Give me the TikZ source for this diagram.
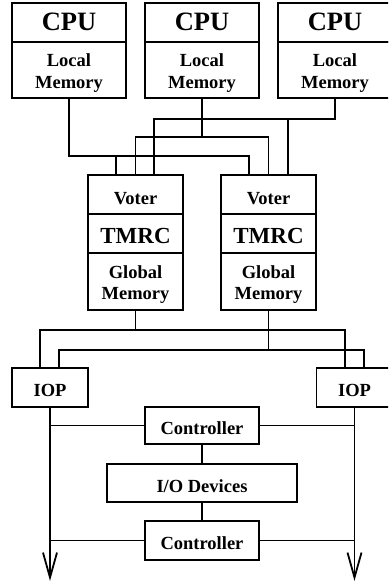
\documentclass[tikz,border=0pt]{standalone}
\usepackage{fontspec}
\setmainfont{Liberation Serif}
\usetikzlibrary{arrows.meta}

\begin{document}
\begin{tikzpicture}[x=1pt, y=-1pt, line width=1.8pt,
    unit/.style={draw, rectangle, inner sep=0pt, align=center,
        text height=18.5pt, text depth=0pt,
        font=\bfseries\fontsize{18.5}{21.5}\selectfont},
    twoline/.style={unit, text height=36.5pt},
    bigunit/.style={unit, text height=16.5pt, font=\bfseries\fontsize{26.5}{30}\selectfont},
    midunit/.style={unit, text height=19.5pt, font=\bfseries\fontsize{23}{26}\selectfont},
    bus/.style={-{Straight Barb[length=25pt, width=14pt, line width=1.8pt]}}]
            \useasboundingbox (0,0) rectangle (388,583);
            \clip (0,0) rectangle (388,583);

            % processors
            \node[bigunit, minimum width=114pt, minimum height=39pt] (cpuA) at (69,22.5) {CPU};
            \node[twoline, minimum width=114pt, minimum height=56pt] (memA) at (69,70) {Local\\Memory};
            \node[bigunit, minimum width=114pt, minimum height=39pt] (cpuB) at (202,22.5) {CPU};
            \node[twoline, minimum width=114pt, minimum height=56pt] (memB) at (202,70) {Local\\Memory};
            \node[bigunit, minimum width=114pt, minimum height=39pt] (cpuC) at (335,22.5) {CPU};
            \node[twoline, minimum width=114pt, minimum height=56pt] (memC) at (335,70) {Local\\Memory};

            % voters
            \node[unit, text height=19.5pt, minimum width=95pt, minimum height=39pt] (voteA) at (135.5,194.5) {Voter};
            \node[midunit, minimum width=95pt, minimum height=39pt] (tmrcA) at (135.5,233.5) {TMRC};
            \node[twoline, minimum width=95pt, minimum height=57pt] (globA) at (135.5,281.5) {Global\\Memory};
            \node[unit, text height=19.5pt, minimum width=95pt, minimum height=39pt] (voteB) at (268.5,194.5) {Voter};
            \node[midunit, minimum width=95pt, minimum height=39pt] (tmrcB) at (268.5,233.5) {TMRC};
            \node[twoline, minimum width=95pt, minimum height=57pt] (globB) at (268.5,281.5) {Global\\Memory};

            % i/o side
            \node[unit, minimum width=76pt, minimum height=39pt] (iopA) at (50,387.5) {IOP};
            \node[unit, minimum width=76pt, minimum height=39pt] (iopB) at (354.5,387.5) {IOP};
            \node[unit, minimum width=114pt, minimum height=37.5pt] (ctrlA) at (202,425.5) {Controller};
            \node[unit, minimum width=190pt, minimum height=38pt] (io) at (202,483) {I/O Devices};
            \node[unit, minimum width=114pt, minimum height=39pt] (ctrlB) at (202,540.5) {Controller};

            % cpu -> voter
            \draw (memA.south) -- ++(0,57) -| ([xshift=-19.5pt]voteB.north);
            \coordinate (jA) at ([xshift=-19.5pt]voteA.north |- 0,155);
            \draw ([xshift=-19.5pt]voteA.north) -- (jA);
            \draw (memB.south) -- ++(0,38) coordinate (jB);
            \draw (voteA.north) |- (jB) -| (voteB.north);
            \draw (memC.south) -- ++(0,20) coordinate (jC) -| ([xshift=18.5pt]voteA.north);
            \draw ([xshift=19.5pt]voteB.north) |- (jC);

            % voter -> iop
            \draw (globA.south) -- ++(0,19) coordinate (kA);
            \draw ([xshift=-10pt]iopA.north) |- (kA) -| ([xshift=-9.5pt]iopB.north);
            \draw (globB.south) -- ++(0,39) coordinate (kB);
            \draw ([xshift=9pt]iopA.north) |- (kB) -| ([xshift=9.5pt]iopB.north);

            % buses
            \draw[bus] (iopA.south) -- ++(0,173);
            \draw[bus] (iopB.south) -- ++(0,173);
            \draw (ctrlA.west) -- (ctrlA.west -| iopA.south);
            \draw (ctrlA.east) -- (ctrlA.east -| iopB.south);
            \draw (ctrlB.west) -- (ctrlB.west -| iopA.south);
            \draw (ctrlB.east) -- (ctrlB.east -| iopB.south);
            \draw (ctrlA) -- (io);
            \draw (io) -- (ctrlB);
\end{tikzpicture}
\end{document}
